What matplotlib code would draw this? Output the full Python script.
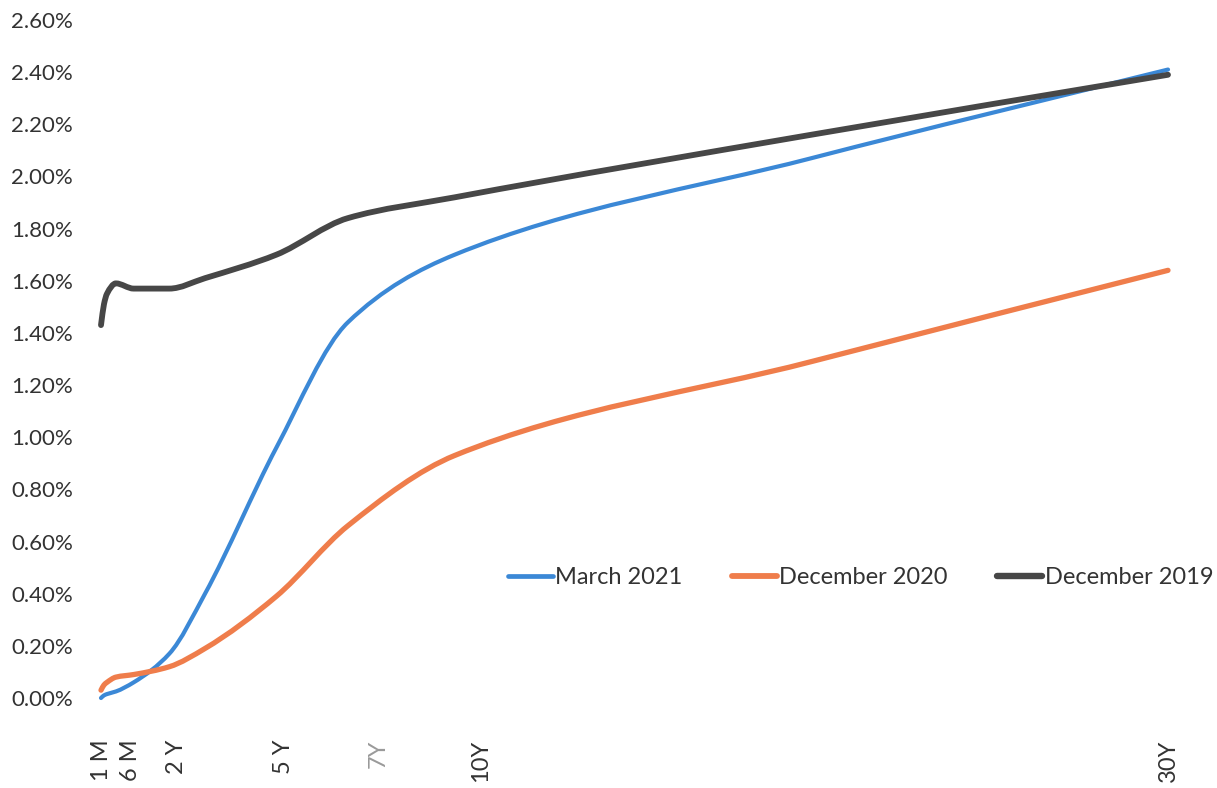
import matplotlib.pyplot as plt
from matplotlib.path import Path
from matplotlib.patches import PathPatch
from matplotlib.lines import Line2D
from matplotlib.transforms import ScaledTranslation
import numpy as np

plt.rcParams['font.family'] = ['Lato', 'DejaVu Sans']

# Treasury yield curves (%)
maturity_years = [1/12, 2/12, 3/12, 0.5, 1, 2, 3, 5, 7, 10, 20, 30]
march_2021 = [0.00, 0.01, 0.015, 0.025, 0.06, 0.17, 0.40, 0.96, 1.44, 1.70, 2.07, 2.41]
december_2020 = [0.03, 0.05, 0.06, 0.08, 0.09, 0.12, 0.19, 0.39, 0.66, 0.93, 1.29, 1.64]
december_2019 = [1.43, 1.51, 1.55, 1.59, 1.57, 1.57, 1.61, 1.70, 1.84, 1.92, 2.16, 2.39]

series_names = ["March 2021", "December 2020", "December 2019"]

tick_years = [1/12, 0.5, 2, 5, 7, 10, 30]
tick_labels = ["1 M", "6 M", "2 Y", "5 Y", "7Y", "10Y", "30Y"]


def smooth_path(x, y):
    # smoothed line through every point: cubic Bezier pieces with
    # shape-preserving (pchip-style) tangents
    x = np.asarray(x, float)
    y = np.asarray(y, float)
    h = np.diff(x)
    d = np.diff(y) / h
    m = np.empty_like(y)
    m[0], m[-1] = d[0], d[-1]
    for i in range(1, len(x) - 1):
        if d[i - 1] * d[i] <= 0:
            m[i] = 0.0
        else:
            w1 = 2 * h[i] + h[i - 1]
            w2 = h[i] + 2 * h[i - 1]
            m[i] = (w1 + w2) / (w1 / d[i - 1] + w2 / d[i])
    verts = [(x[0], y[0])]
    codes = [Path.MOVETO]
    for i in range(len(x) - 1):
        verts += [(x[i] + h[i] / 3, y[i] + m[i] * h[i] / 3),
                  (x[i + 1] - h[i] / 3, y[i + 1] - m[i + 1] * h[i] / 3),
                  (x[i + 1], y[i + 1])]
        codes += [Path.CURVE4] * 3
    return Path(verts, codes)


fig = plt.figure(figsize=(12.17, 7.88), dpi=100)
ax = fig.add_axes([101 / 1217, 90 / 788, 1067 / 1217, 678 / 788])

styles = [
    (march_2021, "#3b88d6", 3.0),
    (december_2020, "#ef7d4b", 3.8),
    (december_2019, "#474747", 4.2),
]
handles = []
for (values, color, lw), name in zip(styles, series_names):
    patch = PathPatch(smooth_path(maturity_years, values), fill=False,
                      edgecolor=color, lw=lw, capstyle='round',
                      joinstyle='round', clip_on=False)
    ax.add_patch(patch)
    handles.append(Line2D([], [], color=color, lw=lw + 0.4, solid_capstyle='round'))

ax.set_xlim(1/12, 30)
ax.set_ylim(0, 2.6)

for side in ["top", "right", "left", "bottom"]:
    ax.spines[side].set_visible(False)

yticks = np.arange(0, 2.61, 0.2)
ax.set_yticks(yticks)
ax.set_yticklabels([f"{v:.2f}%" for v in yticks])
ax.tick_params(axis='y', length=0, pad=20, labelsize=16, labelcolor="#333333")

ax.set_xticks(tick_years)
ax.set_xticklabels(tick_labels, rotation=90)
ax.tick_params(axis='x', length=0, pad=30, labelsize=17, labelcolor="#333333")

# nudge the maturity labels sideways so the short end stays readable
label_shift_px = [0, 15, 7, 7, 31, 26, 0]
for lbl, dx in zip(ax.get_xticklabels(), label_shift_px):
    lbl.set_transform(lbl.get_transform() +
                      ScaledTranslation(dx / 100, 0, fig.dpi_scale_trans))
ax.get_xticklabels()[4].set_color("#9a9a9a")

ax.legend(handles, series_names, loc='center', bbox_to_anchor=(0.712, 0.178),
          ncol=3, frameon=False, fontsize=17, handlelength=1.9,
          handletextpad=0.1, columnspacing=2.1, labelcolor="#333333")

fig.savefig("out.png", dpi=100)
